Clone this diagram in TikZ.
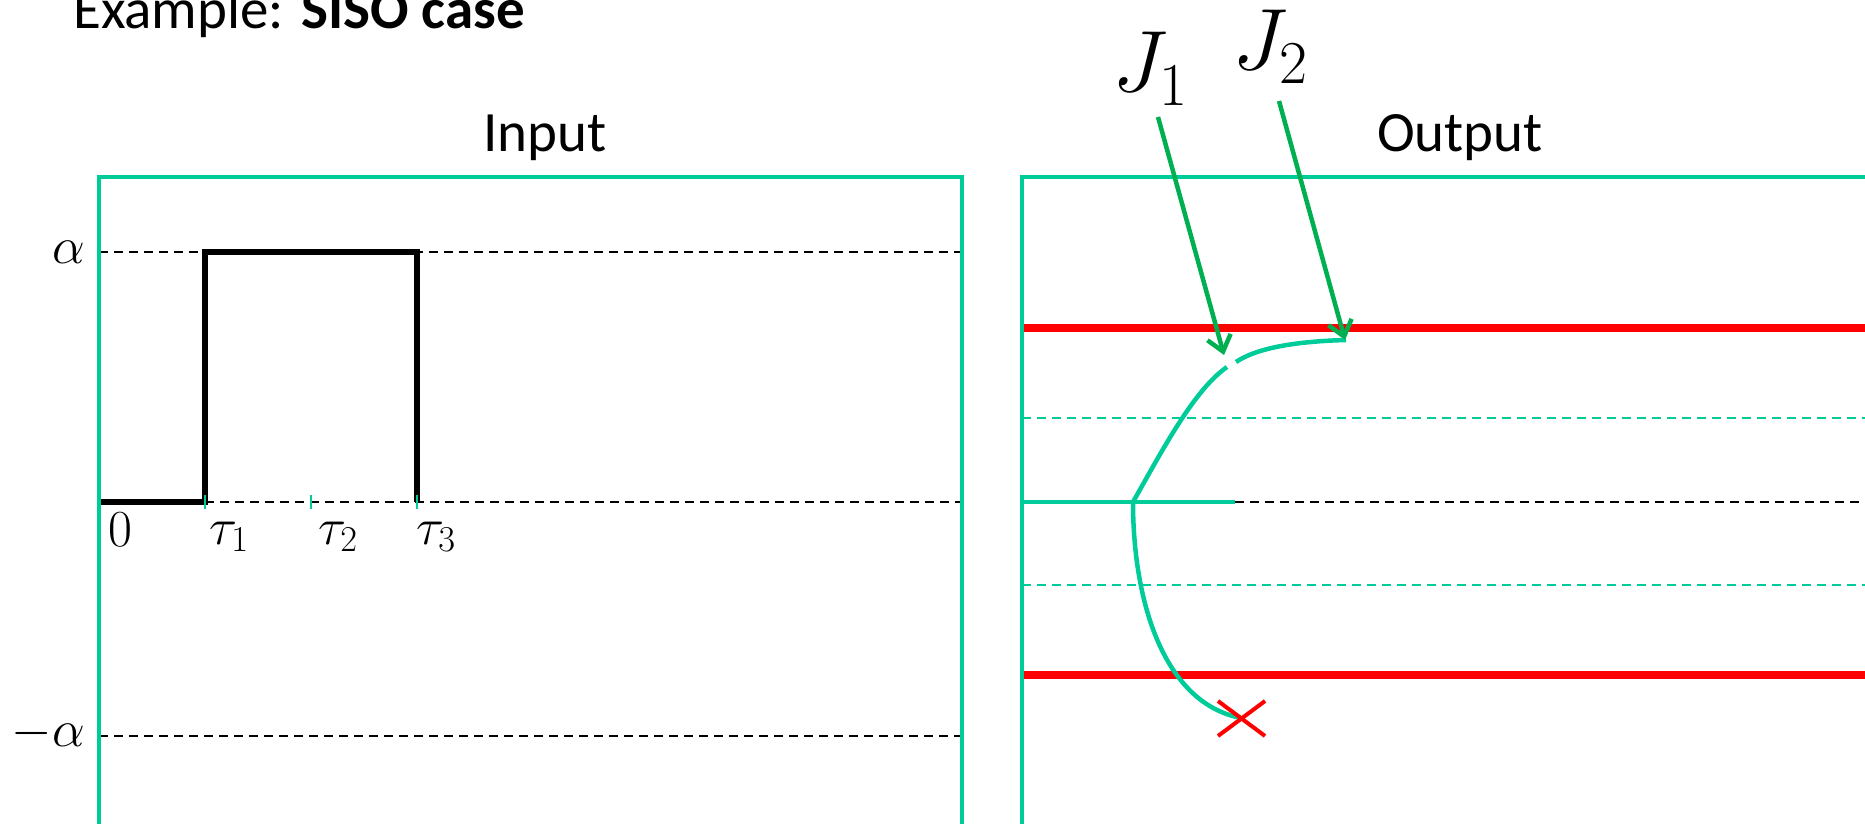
\RequirePackage{fix-cm}
\documentclass[tikz,border=0pt]{standalone}
\usepackage{fontspec}
\setmainfont{Carlito}
\usetikzlibrary{arrows.meta}
\definecolor{boxgreen}{HTML}{00CC99}
\definecolor{arrgreen}{HTML}{00B050}
\definecolor{xred}{HTML}{FF0000}
\tikzset{
  frame/.style={draw=boxgreen, line width=4.5pt},
  limit/.style={draw=xred, line width=8.5pt},
  refdash/.style={draw=black, line width=2pt, dash pattern=on 9pt off 6pt},
  gdash/.style={draw=boxgreen, line width=2.2pt, dash pattern=on 9pt off 6pt},
  stepline/.style={draw=black, line width=5.5pt},
  traj/.style={draw=boxgreen, line width=4.5pt},
  tick/.style={draw=boxgreen, line width=1.5pt},
  pointer/.style={draw=arrgreen, line width=4.5pt, -{Straight Barb[length=15pt,width=24pt]}},
  titletext/.style={inner sep=0pt, anchor=base west, font=\fontsize{57}{68}\selectfont},
  headtext/.style={inner sep=0pt, anchor=base, font=\fontsize{57}{68}\selectfont},
  axlabel/.style={inner sep=0pt, font=\fontsize{52}{62}\selectfont},
  jlabel/.style={inner sep=0pt, anchor=base west, font=\fontsize{87}{100}\selectfont},
}
\begin{document}
\begin{tikzpicture}[x=1pt,y=-1pt]
\useasboundingbox (0,0) rectangle (1865,824);
\clip (0,0) rectangle (1865,824);

% title and headings
\node[titletext] (title) at (73,29) {Example: \textbf{SISO case}};
\node[headtext] (inhead) at (545,151) {Input};
\node[headtext] (outhead) at (1460,151) {Output};

% ---------- Input panel ----------
\draw[refdash] (99,252) -- (962,252);
\draw[refdash] (205,502) -- (962,502);
\draw[refdash] (99,736) -- (962,736);
\draw[stepline] (99,502) -- (205,502) -- (205,252) -- (417,252) -- (417,502);
\foreach \tx in {205,311,417} \draw[tick] (\tx,495) -- (\tx,509);
\draw[frame] (99,830) -- (99,177) -- (962,177) -- (962,830);

\node[axlabel, anchor=base east] (alab) at (85,263) {$\alpha$};
\node[axlabel, anchor=base east] (malab) at (85,746) {$-\alpha$};
\node[axlabel, anchor=base] (zlab) at (120,546) {$0$};
\node[axlabel, anchor=base west] (t1) at (209,544) {$\tau_1$};
\node[axlabel, anchor=base west] (t2) at (318,544) {$\tau_2$};
\node[axlabel, anchor=base west] (t3) at (416,544) {$\tau_3$};

% ---------- Output panel ----------
\draw[gdash] (1022,418) -- (1870,418);
\draw[gdash] (1022,585) -- (1870,585);
\draw[refdash] (1235,502) -- (1870,502);
\draw[limit] (1022,328) -- (1870,328);
\draw[limit] (1022,675) -- (1870,675);
\draw[traj] (1022,502) -- (1235,502);
\draw[frame] (1022,830) -- (1022,177) -- (1870,177);

\coordinate (branch) at (1133,502);
\coordinate (gapA) at (1227,367);
\coordinate (gapB) at (1236,362);
\coordinate (settle) at (1346,340);
\coordinate (fail) at (1241,718);
\draw[traj] (branch) .. controls (1163,449) and (1194,390) .. (gapA);
\draw[traj] (gapB) .. controls (1261,345) and (1310,341) .. (settle);
\draw[traj] (branch) .. controls (1133,600) and (1163,703) .. (fail);

\draw[draw=xred, line width=4pt] (1218,701) -- (1265,736);
\draw[draw=xred, line width=4pt] (1218,736) -- (1265,701);

% J labels and pointers
\node[jlabel] (j1) at (1112,92) {$J_1$};
\node[jlabel] (j2) at (1232,70) {$J_2$};
\coordinate (j1s) at (1158,117);
\coordinate (j1e) at (1224,355);
\coordinate (j2s) at (1279,101);
\coordinate (j2e) at (1345,340);
\draw[pointer] (j1s) -- (j1e);
\draw[pointer] (j2s) -- (j2e);
\end{tikzpicture}
\end{document}
